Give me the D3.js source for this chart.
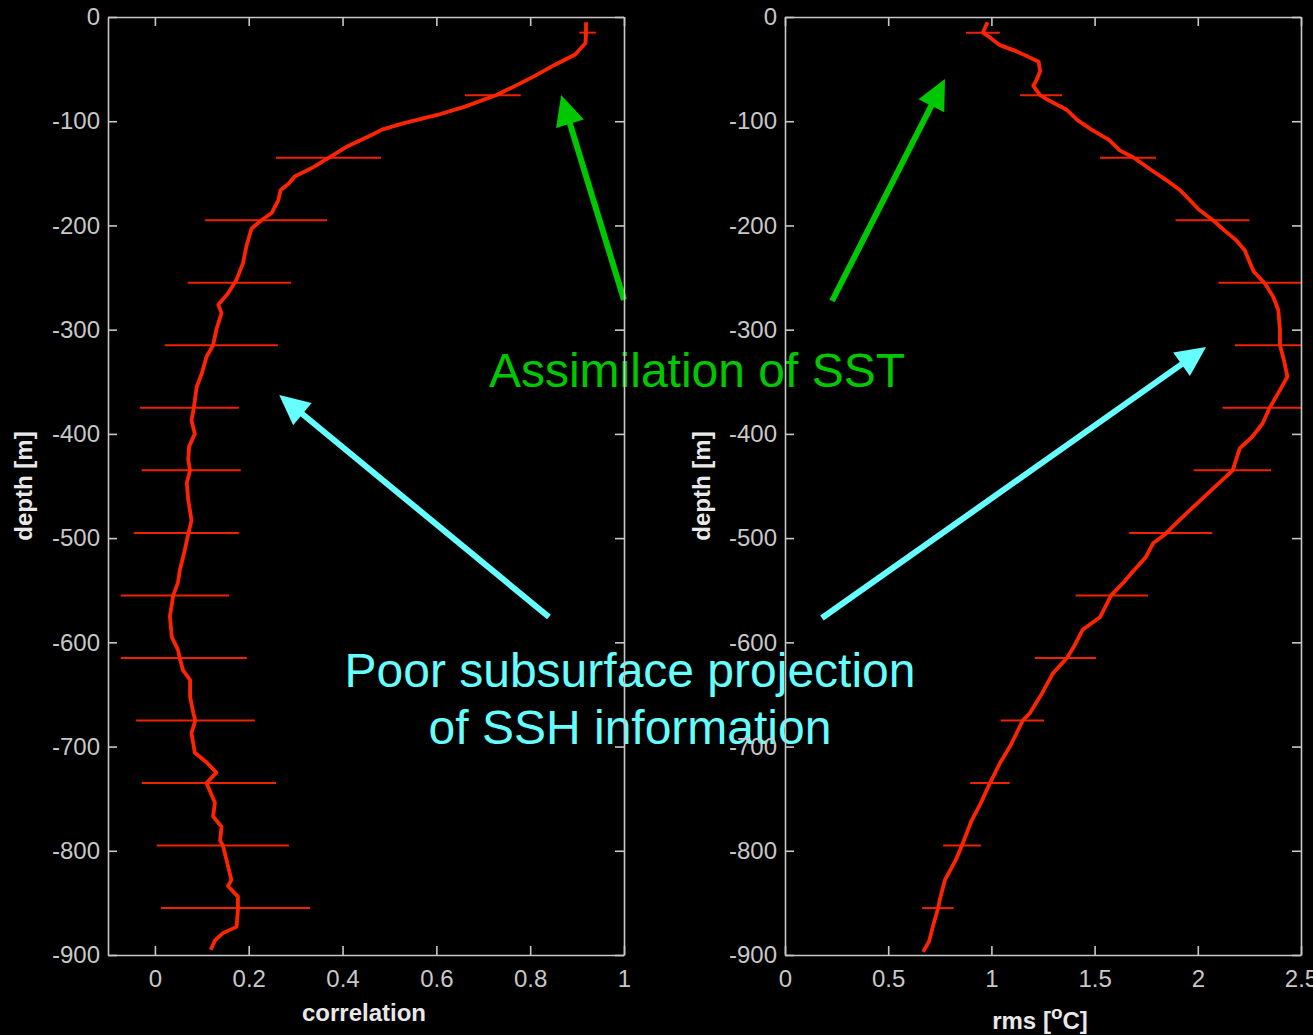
<!DOCTYPE html>
<html>
<head>
<meta charset="utf-8">
<script src="https://cdn.jsdelivr.net/npm/d3@7"></script>
<style>
  html, body { margin: 0; padding: 0; background: #000; }
  svg { display: block; }
</style>
</head>
<body>
<svg id="chart" width="1313" height="1035"></svg>
<script>
// ---- Correlation profile (depth in m, correlation) ----
const corrDepths = [5, 15, 25, 36, 46, 57, 67, 75, 86, 94, 102, 108, 113, 124, 135, 144, 153, 160, 166, 176,
  188, 195, 203, 220, 236, 252, 265, 276, 284, 300, 315, 326, 342, 355, 375, 387, 400, 412, 425, 435,
  447, 463, 483, 496, 511, 531, 543, 555, 575, 595, 607, 615, 627, 636, 652, 668, 675, 687, 706, 715,
  725, 735, 754, 767, 777, 790, 795, 815, 828, 834, 844, 857, 873, 879, 886, 895];
const corrValues = [0.919, 0.919, 0.918, 0.896, 0.852, 0.808, 0.764, 0.727, 0.661, 0.602, 0.529, 0.484, 0.463, 0.411, 0.371, 0.338, 0.298, 0.285, 0.268, 0.263,
  0.249, 0.227, 0.206, 0.195, 0.188, 0.174, 0.156, 0.135, 0.142, 0.131, 0.124, 0.110, 0.100, 0.089, 0.083, 0.078, 0.085, 0.073, 0.071, 0.075,
  0.068, 0.071, 0.078, 0.071, 0.064, 0.053, 0.049, 0.039, 0.032, 0.036, 0.049, 0.053, 0.060, 0.075, 0.075, 0.082, 0.086, 0.078, 0.085, 0.110,
  0.131, 0.110, 0.128, 0.124, 0.142, 0.139, 0.145, 0.156, 0.163, 0.156, 0.177, 0.177, 0.174, 0.145, 0.128, 0.119];

// ---- RMS profile (depth in m, rms in degC) ----
const rmsDepths = [5, 9, 15, 19, 27, 32, 38, 43, 52, 60, 66, 75, 80, 89, 99, 108, 118, 128, 135, 147,
  156, 166, 176, 185, 195, 205, 214, 224, 236, 244, 256, 268, 281, 300, 315, 329, 345, 358, 375, 390,
  403, 414, 435, 454, 473, 489, 496, 505, 518, 531, 543, 555, 576, 588, 604, 615, 630, 649, 668, 675,
  700, 716, 735, 755, 771, 795, 809, 828, 846, 855, 873, 887, 897];
const rmsValues = [0.981, 0.972, 0.959, 0.988, 1.041, 1.109, 1.177, 1.229, 1.236, 1.220, 1.203, 1.236, 1.278, 1.365, 1.417, 1.485, 1.570, 1.622, 1.690, 1.776,
  1.844, 1.913, 1.963, 2.006, 2.074, 2.130, 2.185, 2.228, 2.253, 2.270, 2.326, 2.364, 2.390, 2.398, 2.398, 2.417, 2.434, 2.398, 2.348, 2.314,
  2.263, 2.203, 2.169, 2.066, 1.963, 1.878, 1.844, 1.783, 1.749, 1.690, 1.638, 1.580, 1.526, 1.442, 1.400, 1.366, 1.297, 1.245, 1.186, 1.152,
  1.090, 1.041, 0.993, 0.947, 0.904, 0.857, 0.827, 0.775, 0.751, 0.742, 0.716, 0.698, 0.669];

// ---- Error bars (every 60 m) ----
const barDepths = [15, 75, 135, 195, 255, 315, 375, 435, 495, 555, 615, 675, 735, 795, 855];
const corrLow  = [0.905, 0.661, 0.258, 0.107, 0.070, 0.021, -0.032, -0.028, -0.045, -0.073, -0.073, -0.040, -0.028, 0.004, 0.013];
const corrHigh = [0.940, 0.780, 0.482, 0.367, 0.290, 0.262, 0.179, 0.183, 0.179, 0.158, 0.196, 0.213, 0.258, 0.286, 0.331];
const rmsLow   = [0.877, 1.139, 1.526, 1.892, 2.100, 2.180, 2.120, 1.980, 1.667, 1.408, 1.211, 1.045, 0.897, 0.766, 0.664];
const rmsHigh  = [1.041, 1.342, 1.797, 2.250, 2.560, 2.620, 2.580, 2.355, 2.070, 1.759, 1.507, 1.255, 1.089, 0.949, 0.817];

// ---- Tick values and labels ----
const depthTicks = [0, -100, -200, -300, -400, -500, -600, -700, -800, -900];
const corrTicks = [0, 0.2, 0.4, 0.6, 0.8, 1];
const corrTickLabels = ["0", "0.2", "0.4", "0.6", "0.8", "1"];
const rmsTicks = [0, 0.5, 1, 1.5, 2, 2.5];
const rmsTickLabels = ["0", "0.5", "1", "1.5", "2", "2.5"];

const svg = d3.select("#chart");
svg.append("rect").attr("width", 1313).attr("height", 1035).attr("fill", "#000");

const AXIS_COLOR = "#c8c8c8";
const RED = "#ff2400";
const GREEN = "#00c800";
const CYAN = "#66ffff";

const plotTop = 17, plotBottom = 955;
const y = d3.scaleLinear().domain([-900, 0]).range([plotBottom, plotTop]);
const xCorr = d3.scaleLinear().domain([-0.1, 1]).range([108, 624]);
const xRms = d3.scaleLinear().domain([0, 2.5]).range([785, 1301]);

const defs = svg.append("defs");

function drawProfile(id, x, depths, values, lows, highs) {
  const [x0, x1] = x.range();
  defs.append("clipPath").attr("id", id)
    .append("rect").attr("x", x0).attr("y", plotTop).attr("width", x1 - x0).attr("height", plotBottom - plotTop);
  const g = svg.append("g").attr("clip-path", `url(#${id})`);
  g.selectAll("line.bar").data(barDepths).join("line")
    .attr("class", "bar")
    .attr("x1", (d, i) => x(lows[i])).attr("x2", (d, i) => x(highs[i]))
    .attr("y1", d => y(-d)).attr("y2", d => y(-d))
    .attr("stroke", "#ee2200").attr("stroke-width", 2);
  const line = d3.line().x(d => x(d[1])).y(d => y(-d[0])).curve(d3.curveLinear);
  g.append("path").datum(d3.zip(depths, values))
    .attr("d", line).attr("fill", "none")
    .attr("stroke", RED).attr("stroke-width", 3.8).attr("stroke-linejoin", "round");
}

drawProfile("clipCorr", xCorr, corrDepths, corrValues, corrLow, corrHigh);
drawProfile("clipRms", xRms, rmsDepths, rmsValues, rmsLow, rmsHigh);

// ---- Annotations ----
const ann = svg.append("g").attr("font-family", "'Liberation Sans', Arial, sans-serif").attr("font-size", 48);

function arrow(color, x0, y0, x1, y1) {
  const dx = x1 - x0, dy = y1 - y0, len = Math.hypot(dx, dy);
  const ux = dx / len, uy = dy / len, nx = -uy, ny = ux;
  const headL = 30, headW = 29;
  const bx = x1 - ux * headL, by = y1 - uy * headL;
  ann.append("line").attr("x1", x0).attr("y1", y0).attr("x2", bx + ux * 2).attr("y2", by + uy * 2)
    .attr("stroke", color).attr("stroke-width", 6);
  ann.append("path")
    .attr("d", `M${x1},${y1}L${bx + nx * headW / 2},${by + ny * headW / 2}L${bx - nx * headW / 2},${by - ny * headW / 2}Z`)
    .attr("fill", color);
}

ann.append("text").attr("x", 697).attr("y", 387).attr("text-anchor", "middle")
  .attr("fill", GREEN).text("Assimilation of SST");
ann.append("text").attr("x", 630).attr("y", 687).attr("text-anchor", "middle")
  .attr("fill", CYAN).text("Poor subsurface projection");
ann.append("text").attr("x", 630).attr("y", 744).attr("text-anchor", "middle")
  .attr("fill", CYAN).text("of SSH information");

arrow(GREEN, xCorr(1.0), y(-271.5), xCorr(0.866), y(-74.8));
arrow(GREEN, xRms(0.228), y(-272.5), xRms(0.775), y(-59.5));
arrow(CYAN, xCorr(0.840), y(-575.7), xCorr(0.265), y(-362.7));
arrow(CYAN, xRms(0.179), y(-576.7), xRms(2.04), y(-316.6));

// ---- Axes (boxed, ticks pointing inward) ----
function styleAxis(g) {
  g.attr("font-family", "'Liberation Sans', Arial, sans-serif").attr("font-size", 24);
  g.selectAll(".domain").attr("stroke", AXIS_COLOR).attr("stroke-width", 1.6);
  g.selectAll(".tick line").attr("stroke", AXIS_COLOR).attr("stroke-width", 1.6);
  g.selectAll(".tick text").attr("fill", AXIS_COLOR);
}

function drawAxes(x, ticks, labels) {
  const [x0, x1] = x.range();
  svg.append("g").attr("transform", `translate(0,${plotBottom})`)
    .call(d3.axisBottom(x).tickValues(ticks).tickFormat((d, i) => labels[i])
      .tickSizeInner(-9).tickSizeOuter(0).tickPadding(15))
    .call(styleAxis);
  svg.append("g").attr("transform", `translate(0,${plotTop})`)
    .call(d3.axisTop(x).tickValues(ticks).tickFormat("").tickSizeInner(-9).tickSizeOuter(0))
    .call(styleAxis);
  svg.append("g").attr("transform", `translate(${x0},0)`)
    .call(d3.axisLeft(y).tickValues(depthTicks).tickFormat(d => String(d))
      .tickSizeInner(-9).tickSizeOuter(0).tickPadding(8))
    .call(styleAxis);
  svg.append("g").attr("transform", `translate(${x1},0)`)
    .call(d3.axisRight(y).tickValues(depthTicks).tickFormat("").tickSizeInner(-9).tickSizeOuter(0))
    .call(styleAxis);
}

drawAxes(xCorr, corrTicks, corrTickLabels);
drawAxes(xRms, rmsTicks, rmsTickLabels);

// ---- Axis titles ----
const titles = svg.append("g").attr("font-family", "'Liberation Sans', Arial, sans-serif")
  .attr("font-size", 24).attr("font-weight", "bold").attr("fill", "#e8e8e8");

titles.append("text").attr("x", 364).attr("y", 1021).attr("text-anchor", "middle").text("correlation");

const rmsTitle = titles.append("text").attr("x", 1040).attr("y", 1029).attr("text-anchor", "middle");
rmsTitle.append("tspan").text("rms [");
rmsTitle.append("tspan").attr("dy", -10).attr("font-size", 19).text("o");
rmsTitle.append("tspan").attr("dy", 10).text("C]");

titles.append("text").attr("transform", `translate(32,${(plotTop + plotBottom) / 2}) rotate(-90)`)
  .attr("text-anchor", "middle").text("depth [m]");
titles.append("text").attr("transform", `translate(710,${(plotTop + plotBottom) / 2}) rotate(-90)`)
  .attr("text-anchor", "middle").text("depth [m]");
</script>
</body>
</html>
